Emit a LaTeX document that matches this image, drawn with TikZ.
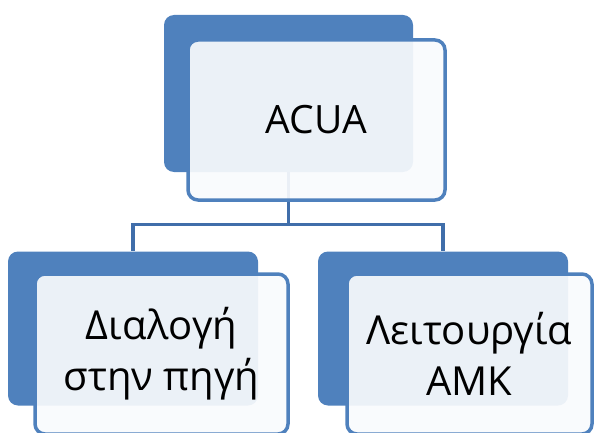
\documentclass[tikz,border=0pt]{standalone}
\usepackage{fontspec}
\setmainfont{Open Sans}
\definecolor{accblue}{HTML}{4F81BD}
\definecolor{lineblue}{HTML}{406EAA}
\definecolor{frontfill}{HTML}{F9FBFD}
\begin{document}
\begin{tikzpicture}[x=1pt,y=-1pt,
  backbox/.style={rectangle, rounded corners=10pt, fill=accblue, draw=none, inner sep=0pt},
  frontbox/.style={rectangle, rounded corners=10pt, draw=accblue, line width=3.5pt, fill=frontfill, fill opacity=0.92, text opacity=1, inner sep=0pt, align=center},
  conn/.style={draw=lineblue, line width=3.5pt},
  toptext/.style={font=\fontsize{39}{47}\selectfont},
  childtext/.style={font=\fontsize{40}{51}\selectfont}
]
\useasboundingbox (0,0) rectangle (594,433);
\clip (0,0) rectangle (594,433);
% back boxes
\node[backbox, minimum width=249pt, minimum height=157pt] (tb) at (288.5,93.5) {};
\node[backbox, minimum width=250pt, minimum height=154pt] (lb) at (133,328.5) {};
\node[backbox, minimum width=250pt, minimum height=154pt] (rb) at (443,328.5) {};
% connectors
\coordinate (bar) at (288.5,224.5);
\draw[conn] (tb.south) -- (bar) -| (lb.north);
\draw[conn] (bar) -| (rb.north);
% front boxes
\node[frontbox, toptext, minimum width=257pt, minimum height=160pt] (tf) at (316.5,120) {ACUA};
\node[frontbox, childtext, minimum width=253pt, minimum height=160pt] (lf) at (161.5,354) {Διαλογή\\στην πηγή};
\node[frontbox, childtext, minimum width=245pt, minimum height=160pt] (rf) at (469.5,354) {Λειτουργία\\ΑΜΚ};
\end{tikzpicture}
\end{document}
